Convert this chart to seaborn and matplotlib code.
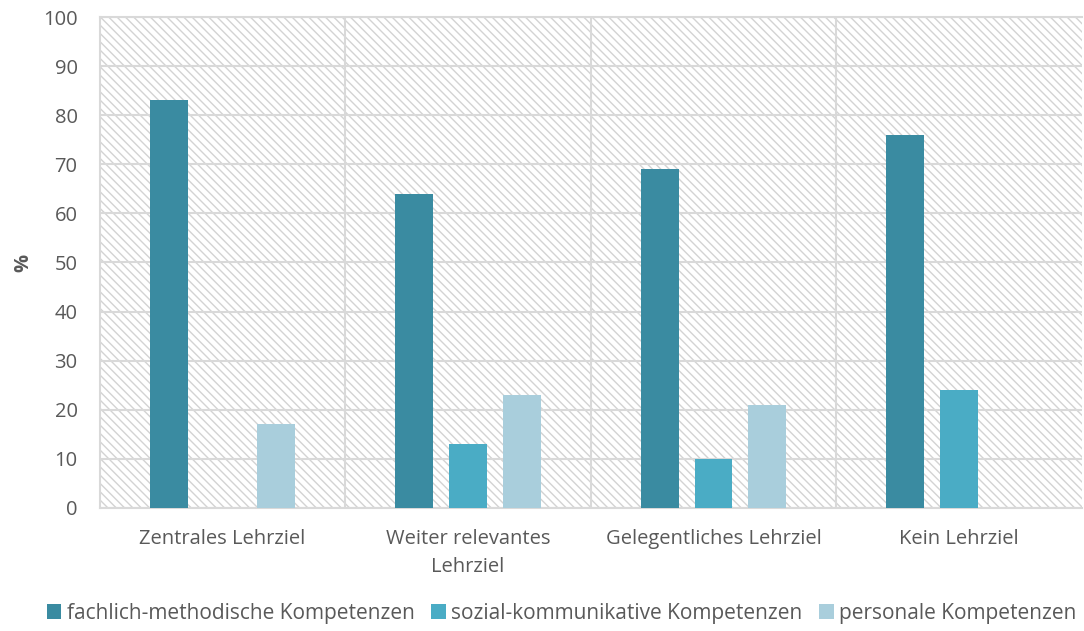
import matplotlib
matplotlib.use("Agg")
import matplotlib.pyplot as plt
import seaborn as sns
import pandas as pd
from matplotlib.patches import Patch

categories = ["Zentrales Lehrziel", "Weiter relevantes\nLehrziel", "Gelegentliches Lehrziel", "Kein Lehrziel"]
series_names = ["fachlich-methodische Kompetenzen", "sozial-kommunikative Kompetenzen", "personale Kompetenzen"]
fachlich = [83, 64, 69, 76]
sozial = [0, 13, 10, 24]
personal = [17, 23, 21, 0]
colors = ["#3A8BA1", "#4AACC5", "#A9CEDC"]
yticks = [0, 10, 20, 30, 40, 50, 60, 70, 80, 90, 100]

rows = []
for name, vals in zip(series_names, [fachlich, sozial, personal]):
    for c, v in zip(categories, vals):
        rows.append({"cat": c, "series": name, "val": v})
df = pd.DataFrame(rows)

sns.set_style("white")
plt.rcParams["font.family"] = ["Open Sans", "DejaVu Sans"]
plt.rcParams["hatch.color"] = "#D3D3D3"
plt.rcParams["hatch.linewidth"] = 1.0

fig = plt.figure(figsize=(10.84, 6.31), dpi=100)
ax = fig.add_axes([0.092, 0.195, 0.906, 0.778])
ax.patch.set_facecolor("white")
ax.patch.set_hatch("\\\\\\\\")
ax.patch.set_edgecolor("#D3D3D3")

sns.barplot(data=df, x="cat", y="val", hue="series", order=categories,
            hue_order=series_names, palette=colors, width=0.657, gap=0.3,
            saturation=1, legend=False, ax=ax, zorder=3, linewidth=0)

ax.set_ylim(0, 100)
ax.set_xlim(-0.5, 3.5)
ax.set_yticks(yticks)
ax.set_yticklabels([str(t) for t in yticks])
ax.set_xticks(range(len(categories)))
ax.set_xticklabels(categories)
ax.set_xticks([0.5, 1.5, 2.5], minor=True)
ax.grid(axis="y", which="major", color="#D9D9D9", linewidth=1.5, zorder=1)
ax.grid(axis="x", which="minor", color="#D9D9D9", linewidth=1.5, zorder=1)
ax.set_axisbelow(True)
ax.tick_params(axis="both", which="both", length=0, colors="#595959", labelsize=14.5)
ax.tick_params(axis="x", pad=15)
ax.tick_params(axis="y", pad=16)
for lbl in ax.get_xticklabels():
    lbl.set_linespacing(1.55)
ax.set_xlabel("")
ax.set_ylabel("%", fontsize=14.5, fontweight="bold", color="#595959")
ax.yaxis.set_label_coords(-0.068, 0.5)
for s in ["left", "top", "bottom"]:
    ax.spines[s].set_color("#D9D9D9")
    ax.spines[s].set_linewidth(1.5)
ax.spines["right"].set_visible(False)

handles = [Patch(facecolor=c, edgecolor="none") for c in colors]
fig.legend(handles, series_names, loc="center", bbox_to_anchor=(0.518, 0.028),
           ncol=3, frameon=False, fontsize=15, handlelength=0.7, handleheight=0.7,
           handletextpad=0.25, columnspacing=0.8, labelcolor="#595959")

fig.savefig("out.png", dpi=100)
